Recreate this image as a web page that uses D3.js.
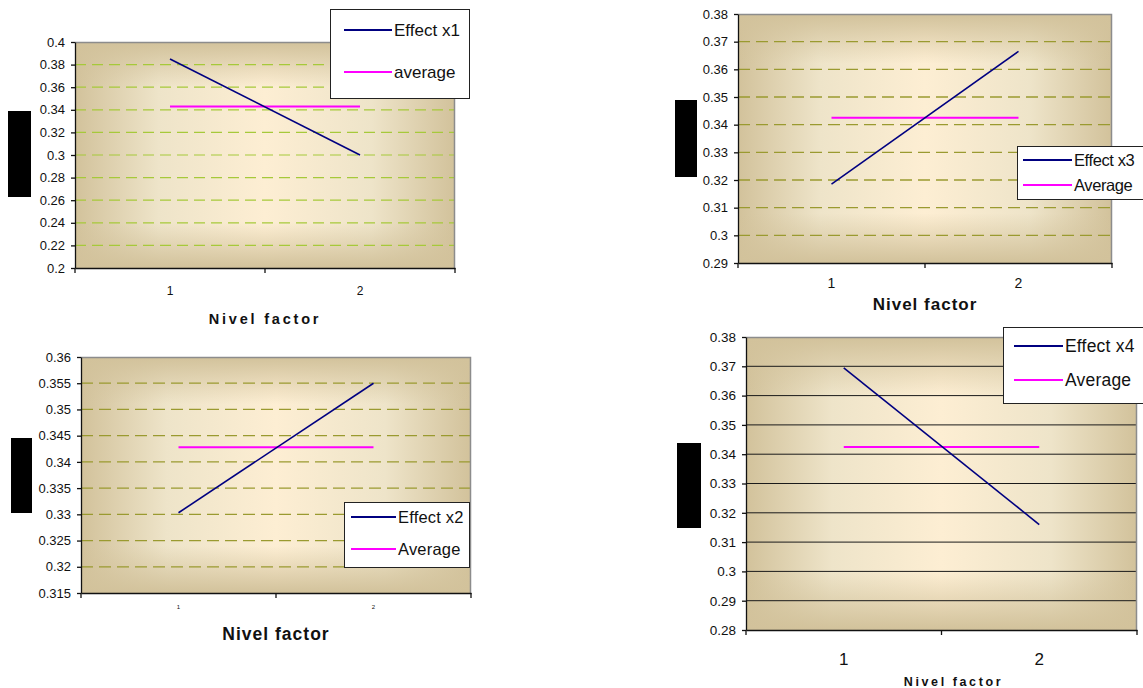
<!DOCTYPE html>
<html>
<head>
<meta charset="utf-8">
<script src="https://cdn.jsdelivr.net/npm/d3@7"></script>
<style>
  body { margin: 0; background: #fff; }
  svg { display: block; font-family: "Liberation Sans", Arial, sans-serif; }
</style>
</head>
<body>
<div id="chart"></div>
<script>
// factor levels on the x axis
var levels = ["1", "2"];

// mean response per level, and the overall average
var effectX1 = [0.385, 0.300],   averageX1 = [0.343, 0.343];
var effectX2 = [0.3303, 0.355],  averageX2 = [0.3428, 0.3428];
var effectX3 = [0.3185, 0.3665], averageX3 = [0.3425, 0.3425];
var effectX4 = [0.3695, 0.316],  averageX4 = [0.3425, 0.3425];

// y tick labels of each chart
var ticksX1 = [0.2, 0.22, 0.24, 0.26, 0.28, 0.3, 0.32, 0.34, 0.36, 0.38, 0.4];
var ticksX2 = [0.315, 0.32, 0.325, 0.33, 0.335, 0.34, 0.345, 0.35, 0.355, 0.36];
var ticksX3 = [0.29, 0.3, 0.31, 0.32, 0.33, 0.34, 0.35, 0.36, 0.37, 0.38];
var ticksX4 = [0.28, 0.29, 0.3, 0.31, 0.32, 0.33, 0.34, 0.35, 0.36, 0.37, 0.38];

var legendX1 = ["Effect x1", "average"];
var legendX2 = ["Effect x2", "Average"];
var legendX3 = ["Effect x3", "Average"];
var legendX4 = ["Effect x4", "Average"];

var xTitle = "Nivel factor";

var svg = d3.select("#chart").append("svg")
    .attr("width", 1143)
    .attr("height", 688);

// background: tan edges fading to a cream centre
var defs = svg.append("defs");
var gh = defs.append("linearGradient").attr("id", "bgH").attr("x1", 0).attr("x2", 1).attr("y1", 0).attr("y2", 0);
[[0, "#d2c29b"], [0.22, "#eee4c9"], [0.5, "#fdeed3"], [0.78, "#eee4c9"], [1, "#d2c29b"]].forEach(function(s) {
  gh.append("stop").attr("offset", s[0]).attr("stop-color", s[1]);
});
var gv = defs.append("linearGradient").attr("id", "bgV").attr("x1", 0).attr("x2", 0).attr("y1", 0).attr("y2", 1);
[[0, 1], [0.2, 0], [0.8, 0], [1, 1]].forEach(function(s) {
  gv.append("stop").attr("offset", s[0]).attr("stop-color", "#d2c29b").attr("stop-opacity", s[1]);
});

function createEffectChart(cfg) {
  var width = cfg.right - cfg.left,
      height = cfg.bottom - cfg.top;

  var g = svg.append("g")
      .attr("transform", "translate(" + cfg.left + "," + cfg.top + ")");

  var xScale = d3.scaleBand()
      .domain(levels)
      .range([0, width]);

  var yScale = d3.scaleLinear()
      .domain([cfg.ticks[0], cfg.ticks[cfg.ticks.length - 1]])
      .range([height, 0]);

  g.append("rect").attr("width", width).attr("height", height).attr("fill", "url(#bgH)");
  g.append("rect").attr("width", width).attr("height", height).attr("fill", "url(#bgV)");

  // horizontal grid lines, not on the edges
  g.selectAll(".grid")
    .data(cfg.ticks.slice(1, -1))
    .enter().append("line")
      .attr("x1", 0)
      .attr("x2", width)
      .attr("y1", function(d) { return yScale(d); })
      .attr("y2", function(d) { return yScale(d); })
      .attr("stroke", cfg.gridColor)
      .attr("stroke-width", cfg.gridWidth)
      .attr("stroke-dasharray", cfg.gridDash);

  // grey frame on top and right
  g.append("path")
    .attr("d", "M0,0.5H" + (width - 0.5) + "V" + height)
    .attr("fill", "none")
    .attr("stroke", "#8c8c8c")
    .attr("stroke-width", 1.5);

  var fmt = function(d) { return String(+d.toFixed(3)); };

  var yAxis = g.append("g")
      .call(d3.axisLeft(yScale).tickValues(cfg.ticks).tickSizeInner(4).tickSizeOuter(0).tickPadding(6).tickFormat(fmt));
  yAxis.selectAll("text").style("font-size", cfg.yFont + "px").attr("fill", "#111");
  yAxis.selectAll("line, path").attr("stroke", "#111").attr("stroke-width", 1.3);

  var xAxis = g.append("g")
      .attr("transform", "translate(0," + height + ")")
      .call(d3.axisBottom(xScale).tickSize(0).tickPadding(cfg.xLabelBase - 0.71 * cfg.xFont));
  xAxis.selectAll("text").style("font-size", cfg.xFont + "px").attr("fill", "#111");
  xAxis.select("path").attr("stroke", "#111").attr("stroke-width", 1.3);

  // tick marks between the categories
  var edges = [0].concat(levels.map(function(d) { return xScale(d) + xScale.bandwidth(); }));
  xAxis.selectAll(".edge")
    .data(edges)
    .enter().append("line")
      .attr("x1", function(d) { return d; })
      .attr("x2", function(d) { return d; })
      .attr("y1", 0)
      .attr("y2", 5)
      .attr("stroke", "#111")
      .attr("stroke-width", 1.3);

  var line = d3.line()
      .x(function(d, i) { return xScale(levels[i]) + xScale.bandwidth() / 2; })
      .y(function(d) { return yScale(d); });

  g.append("path").datum(cfg.average)
    .attr("d", line).attr("fill", "none").attr("stroke", "#ff00ff").attr("stroke-width", 2);
  g.append("path").datum(cfg.effect)
    .attr("d", line).attr("fill", "none").attr("stroke", "#000080").attr("stroke-width", 1.6);

  // y title (blacked out in the source)
  svg.append("rect")
    .attr("x", cfg.block[0]).attr("y", cfg.block[1])
    .attr("width", cfg.block[2]).attr("height", cfg.block[3])
    .attr("fill", "#000");

  svg.append("text")
    .attr("x", (cfg.left + cfg.right) / 2 + cfg.titleShift)
    .attr("y", cfg.titleY)
    .attr("text-anchor", "middle")
    .style("font-size", cfg.titleFont + "px")
    .style("font-weight", "bold")
    .style("letter-spacing", cfg.titleSpacing + "px")
    .attr("fill", "#111")
    .text(xTitle);

  // legend
  var lg = cfg.legend;
  svg.append("rect")
    .attr("x", lg.x + 0.5).attr("y", lg.y + 0.5)
    .attr("width", lg.w).attr("height", lg.h)
    .attr("fill", "#fff")
    .attr("stroke", "#222")
    .attr("stroke-width", 1);
  var colors = ["#000080", "#ff00ff"];
  cfg.labels.forEach(function(label, i) {
    var yy = lg.rows[i];
    svg.append("line")
      .attr("x1", lg.lx1).attr("x2", lg.lx2)
      .attr("y1", yy).attr("y2", yy)
      .attr("stroke", colors[i]).attr("stroke-width", 2);
    svg.append("text")
      .attr("x", lg.lx2 + 2).attr("y", yy + 6)
      .style("font-size", lg.font + "px")
      .style("letter-spacing", lg.spacing + "px")
      .attr("fill", "#111")
      .text(label);
  });
}

createEffectChart({
  left: 75, right: 455, top: 42, bottom: 268,
  ticks: ticksX1, effect: effectX1, average: averageX1, labels: legendX1,
  gridColor: "#a6c93a", gridWidth: 1.2, gridDash: "11,6",
  yFont: 13, xFont: 12, xLabelBase: 27,
  titleFont: 14.5, titleSpacing: 2.8, titleY: 324, titleShift: 0,
  block: [8, 111, 23, 86],
  legend: { x: 330, y: 9, w: 139, h: 89, lx1: 344, lx2: 392, rows: [30, 72], font: 17, spacing: 0 }
});

createEffectChart({
  left: 81, right: 471, top: 357, bottom: 593,
  ticks: ticksX2, effect: effectX2, average: averageX2, labels: legendX2,
  gridColor: "#9a9a30", gridWidth: 1.3, gridDash: "12,6",
  yFont: 13, xFont: 6, xLabelBase: 16,
  titleFont: 17.5, titleSpacing: 1, titleY: 640, titleShift: 0,
  block: [11, 438, 21, 75],
  legend: { x: 344, y: 502, w: 125, h: 65, lx1: 351, lx2: 396, rows: [517, 549], font: 16.5, spacing: 0.2 }
});

createEffectChart({
  left: 738, right: 1112, top: 14, bottom: 263,
  ticks: ticksX3, effect: effectX3, average: averageX3, labels: legendX3,
  gridColor: "#9a9a30", gridWidth: 1.3, gridDash: "12,6",
  yFont: 13, xFont: 14, xLabelBase: 25,
  titleFont: 17, titleSpacing: 1, titleY: 310, titleShift: 0,
  block: [675, 100, 22, 77],
  legend: { x: 1017, y: 146, w: 130, h: 53, lx1: 1023, lx2: 1072, rows: [160, 185], font: 16.5, spacing: -0.4 }
});

createEffectChart({
  left: 746, right: 1137, top: 337, bottom: 630,
  ticks: ticksX4, effect: effectX4, average: averageX4, labels: legendX4,
  gridColor: "#1a1a1a", gridWidth: 1, gridDash: null,
  yFont: 13.5, xFont: 17, xLabelBase: 35,
  titleFont: 12.5, titleSpacing: 2.6, titleY: 686, titleShift: 12,
  block: [677, 443, 24, 85],
  legend: { x: 1003, y: 327, w: 145, h: 76, lx1: 1014, lx2: 1063, rows: [346, 380], font: 17.5, spacing: 0.2 }
});
</script>
</body>
</html>
